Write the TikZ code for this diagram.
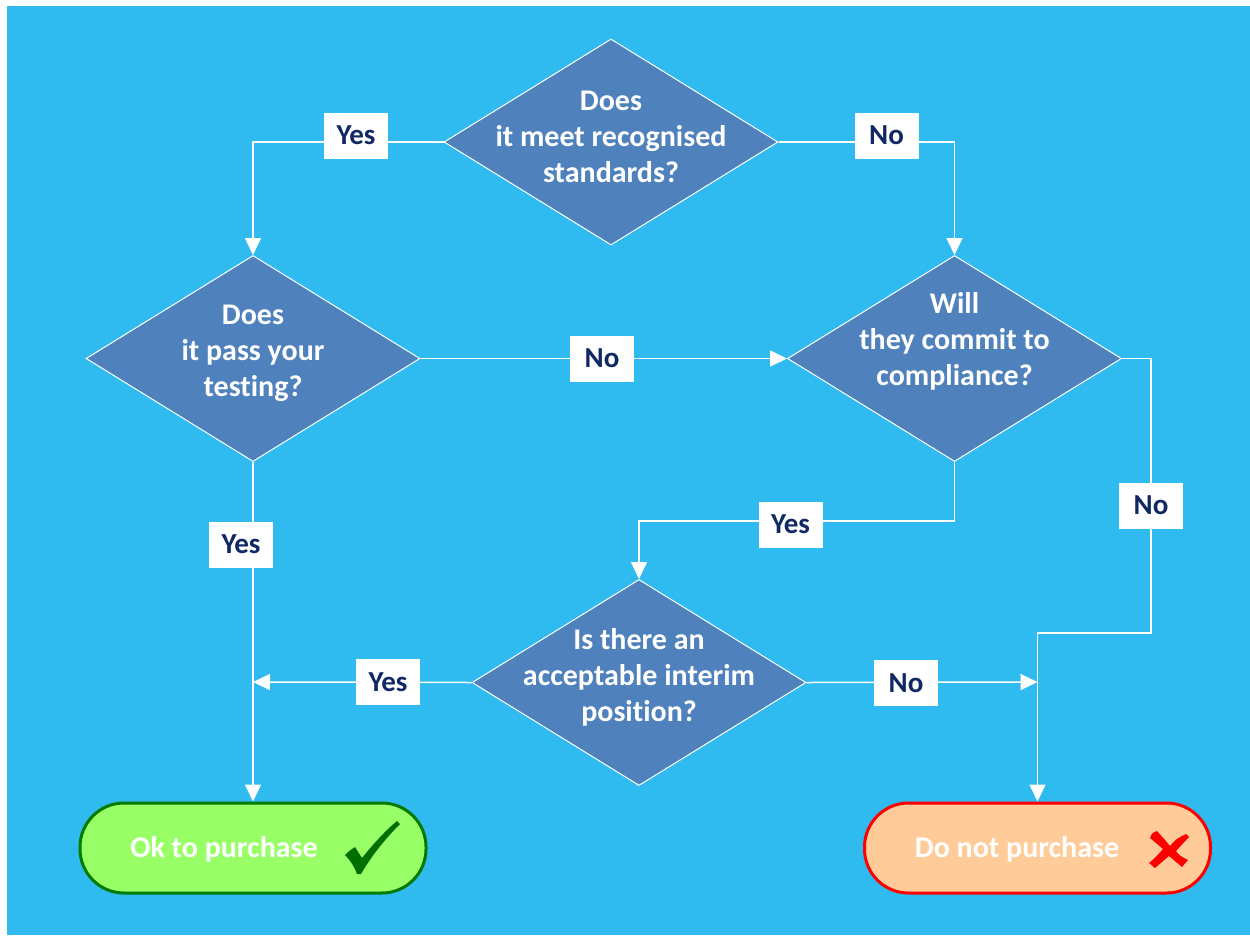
\documentclass[tikz,border=0pt]{standalone}
\usepackage{fontspec}
\setmainfont{Carlito}[Ligatures=NoCommon]
\usetikzlibrary{shapes.geometric,arrows.meta}
\definecolor{bgblue}{RGB}{47,187,240}
\definecolor{decfill}{RGB}{79,129,189}
\definecolor{navy}{RGB}{16,40,100}
\definecolor{okfill}{RGB}{153,255,102}
\definecolor{okdraw}{RGB}{0,122,0}
\definecolor{nofill}{RGB}{255,204,153}
\definecolor{chk}{RGB}{0,110,0}
\tikzset{
  dec/.style={shape=diamond, draw=white, line width=1pt, fill=decfill,
    minimum width=334pt, minimum height=206pt, inner sep=0pt},
  dectext/.style={text=white, font=\fontsize{30}{36}\selectfont\bfseries, align=center},
  term/.style={rectangle, rounded corners=44pt, line width=3pt,
    minimum width=346pt, minimum height=90pt, inner sep=0pt},
  termtext/.style={text=white, font=\fontsize{30}{36}\selectfont\bfseries, inner sep=0pt},
  lab/.style={fill=white, text=navy, font=\fontsize{29}{34}\selectfont\bfseries,
    minimum width=64pt, minimum height=46pt, inner sep=0pt},
  conn/.style={draw=white, line width=1.5pt},
  arr/.style={conn, -{Triangle[width=16pt,length=17pt]}}
}
\begin{document}
\begin{tikzpicture}[x=1pt,y=-1pt]
\useasboundingbox (0,0) rectangle (1250,935);
\fill[white] (0,0) rectangle (1250,935);
\fill[bgblue] (7,6) rectangle (1250,935);

% decisions
\node[dec] (d1) at (611,142) {};
\node[dectext] (d1t) at (611,137) {Does\\it meet recognised\\standards?};
\node[dec] (d2) at (253,358.5) {};
\node[dectext] (d2t) at (253,353) {Does\\it pass your\\testing?};
\node[dec] (d3) at (954.5,358.5) {};
\node[dectext] (d3t) at (954.5,341) {Will\\they commit to\\compliance?};
\node[dec] (d4) at (639,682.5) {};
\node[dectext] (d4t) at (639,677) {Is there an\\acceptable interim\\position?};

% terminals
\node[term, draw=okdraw, fill=okfill] (t1) at (253,848) {};
\node[termtext] (t1t) at (224,849) {Ok to purchase};
\node[term, draw=red, fill=nofill] (t2) at (1037.5,848) {};
\node[termtext] (t2t) at (1017,849) {Do not purchase};

% junction points
\coordinate (j1) at (253,682);
\coordinate (j2) at (1037.5,682);

% connectors
\draw[arr] (d1.west) -| (d2.north);
\draw[arr] (d1.east) -| (d3.north);
\draw[arr] (d2.east) -- (d3.west);
\draw[arr] (d2.south) -- (t1.north);
\draw[arr] (d3.south) -- ++(0,59) -| (d4.north);
\draw[arr] (d3.east) -| (1151,633) -| (t2.north);
\draw[arr] (d4.west) -- (j1);
\draw[arr] (d4.east) -- (j2);

% labels
\node[lab] (l1) at (356,135.5) {Yes};
\node[lab] (l2) at (886.5,135.5) {No};
\node[lab] (l3) at (602,358.5) {No};
\node[lab] (l4) at (241,544.5) {Yes};
\node[lab] (l5) at (790.5,524.5) {Yes};
\node[lab] (l6) at (1151,505.5) {No};
\node[lab] (l7) at (388,682) {Yes};
\node[lab] (l8) at (906,683) {No};

% check mark
\fill[chk] (345,855) .. controls (349,851) .. (355,847) -- (362,858)
  .. controls (375,842) and (386,830) .. (397,821) -- (400,824)
  .. controls (386,838) and (372,855) .. (361,874) -- (357,874)
  .. controls (354,866) and (350,860) .. cycle;
% cross
\fill[red] (1150,838) .. controls (1152,833) .. (1157,831)
  .. controls (1165,840) .. (1170,846)
  .. controls (1176,839) .. (1186,834) -- (1189,837)
  .. controls (1182,844) .. (1176,851)
  .. controls (1180,856) .. (1188,860) -- (1182,867)
  .. controls (1176,862) .. (1169,856)
  .. controls (1162,862) .. (1155,868) -- (1149,863)
  .. controls (1156,857) .. (1163,849)
  .. controls (1157,844) .. cycle;
\end{tikzpicture}
\end{document}
